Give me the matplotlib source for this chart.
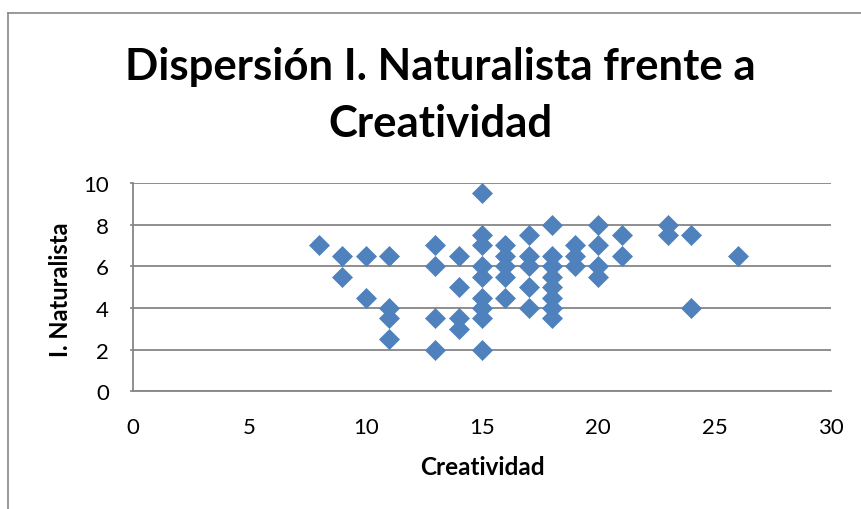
import matplotlib
matplotlib.use("Agg")
import matplotlib.pyplot as plt
from matplotlib.lines import Line2D

creatividad = [8, 9, 9, 10, 10, 11, 11, 11, 11,
               13, 13, 13, 13, 14, 14, 14, 14,
               15, 15, 15, 15, 15, 15, 15, 15, 15,
               16, 16, 16, 16, 16,
               17, 17, 17, 17, 17,
               18, 18, 18, 18, 18, 18, 18, 18,
               19, 19, 19,
               20, 20, 20, 20,
               21, 21, 23, 23, 24, 24, 26]
naturalista = [7, 6.5, 5.5, 6.5, 4.5, 6.5, 4, 3.5, 2.5,
               7, 6, 3.5, 2, 6.5, 5, 3.5, 3,
               9.5, 7.5, 7, 6, 5.5, 4.5, 4, 3.5, 2,
               7, 6.5, 6, 5.5, 4.5,
               7.5, 6.5, 6, 5, 4,
               8, 6.5, 6, 5.5, 5, 4.5, 4, 3.5,
               7, 6.5, 6,
               8, 7, 6, 5.5,
               7.5, 6.5, 8, 7.5, 7.5, 4, 6.5]

x_ticks = [0, 5, 10, 15, 20, 25, 30]
y_ticks = [0, 2, 4, 6, 8, 10]

W, H = 861, 510
fig = plt.figure(figsize=(W / 100, H / 100), dpi=100)
fig.patch.set_facecolor("white")

# plot area in pixels
l, r, t, b = 133, 831, 184, 392.3
ax = fig.add_axes([l / W, 1 - b / H, (r - l) / W, (b - t) / H])

ax.plot(creatividad, naturalista, linestyle="none", marker="D",
        markersize=10, color="#4F81BD", markeredgecolor="#4F81BD",
        markeredgewidth=0.5, zorder=3, clip_on=False)

ax.set_xlim(0, 30)
ax.set_ylim(0, 10)
ax.set_xticks(x_ticks)
ax.set_yticks(y_ticks)
ax.set_xticklabels([str(v) for v in x_ticks], fontsize=16, family="Lato")
ax.set_yticklabels([str(v) for v in y_ticks], fontsize=16, family="Lato")
ax.tick_params(axis="x", length=0, pad=18.7)
ax.tick_params(axis="y", length=2.5, width=1.2, color="#868686", pad=14.8)
ax.yaxis.grid(True, color="#868686", linewidth=1.3)
ax.set_axisbelow(True)
for s in ["top", "right"]:
    ax.spines[s].set_visible(False)
for s in ["left", "bottom"]:
    ax.spines[s].set_color("#868686")
    ax.spines[s].set_linewidth(1.3)

fig.text(482 / W, 1 - 475 / H, "Creatividad", ha="center", va="baseline",
         fontsize=17.5, fontweight="bold", family="Lato")
fig.text(60 / W, 1 - 290 / H, "I. Naturalista", ha="center", va="center",
         rotation=90, fontsize=17, fontweight="bold", family="Lato")

fig.text(440 / W, 1 - 80 / H, "Dispersión I. Naturalista frente a",
         ha="center", va="baseline", fontsize=31.5, fontweight="bold", family="Lato")
fig.text(440 / W, 1 - 137 / H, "Creatividad",
         ha="center", va="baseline", fontsize=31.5, fontweight="bold", family="Lato")

# chart outer border
fig.add_artist(Line2D([8 / W, 1.0], [1 - 14 / H, 1 - 14 / H],
                      transform=fig.transFigure, color="#878787", linewidth=1.2))
fig.add_artist(Line2D([8 / W, 8 / W], [1 - 14 / H, 0],
                      transform=fig.transFigure, color="#878787", linewidth=1.2))

fig.savefig("out.png", dpi=100, facecolor="white")
